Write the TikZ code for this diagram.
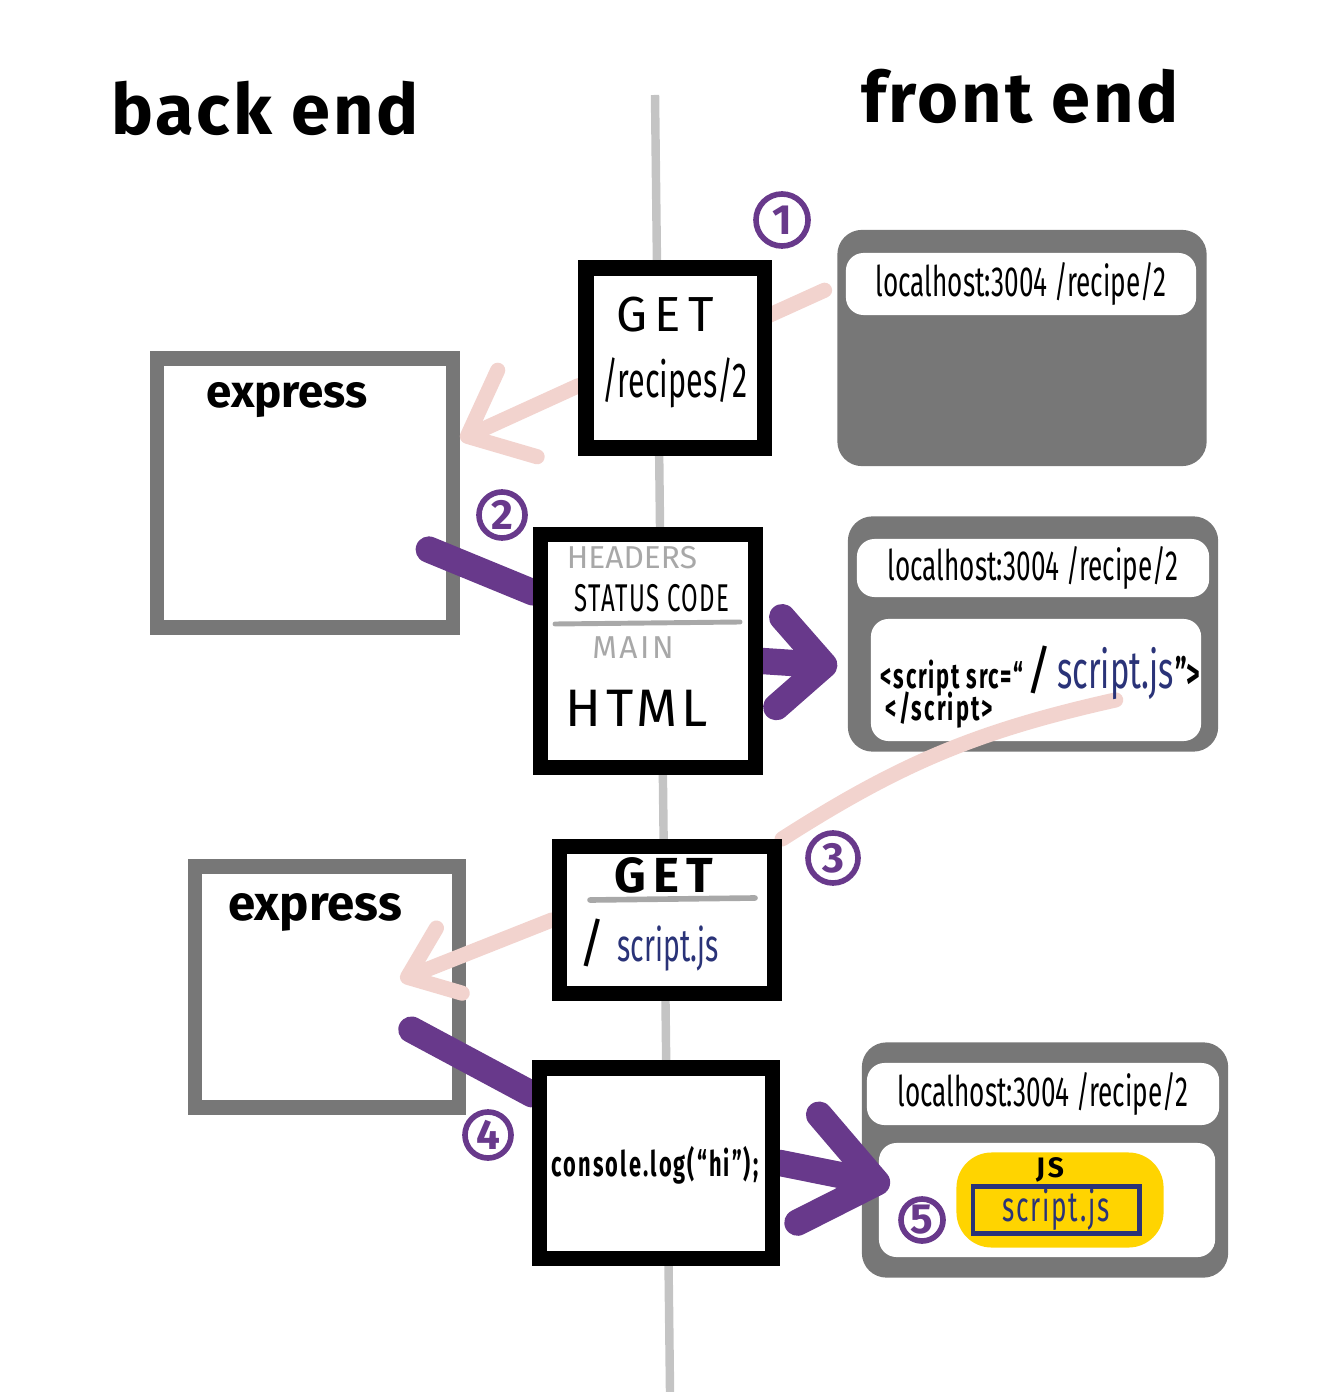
\documentclass[tikz,border=0pt]{standalone}
\usepackage{fontspec}
\setmainfont{Fira Sans}
\newfontfamily\narrowhand[FakeStretch=0.62]{Fira Sans}
\usetikzlibrary{positioning, arrows.meta, backgrounds}
\definecolor{reqpink}{HTML}{F2D3CE}
\definecolor{respurple}{HTML}{68398B}
\definecolor{boxgray}{HTML}{777777}
\definecolor{midgray}{HTML}{A8A8A8}
\definecolor{linegray}{HTML}{C4C4C4}
\definecolor{jsnavy}{HTML}{2A3378}
\definecolor{jsyellow}{HTML}{FFD400}
\tikzstyle{every node}=[inner sep=0pt]
\tikzstyle{msg}=[draw=black,fill=white,line width=4.3pt,rectangle]
\tikzstyle{server}=[draw=boxgray,fill=white,line width=4.2pt,rectangle]
\tikzstyle{browser}=[draw=boxgray,fill=boxgray,line width=4pt,rounded corners=5pt,rectangle]
\tikzstyle{pane}=[fill=white,rounded corners=5pt,rectangle]
\tikzstyle{num}=[draw=respurple,text=respurple,circle,line width=1.6pt,font=\bfseries\handsize{12}]
\tikzstyle{request}=[draw=reqpink,line width=4.3pt,line cap=round]
\tikzstyle{response}=[draw=respurple,line width=7.5pt,line cap=round]
\newcommand{\handsize}[1]{\fontsize{#1}{#1}\selectfont}

\begin{document}
\begin{tikzpicture}[x=0.01cm,y=-0.01cm]
\useasboundingbox (0,0) rectangle (1340,1392);
\begin{scope}[on background layer]
  \draw[linegray,line width=2.4pt] (655,95) -- (670,1392);
  \node[server,minimum width=2.96cm,minimum height=2.69cm] (express1) at (305,493) {};
  \node[server,minimum width=2.64cm,minimum height=2.41cm] (express2) at (327,987) {};
  \node[browser,minimum width=3.55cm,minimum height=2.22cm] (browser1) at (1022,348) {};
  \node[pane,minimum width=3.5cm,minimum height=0.62cm] (url1) at (1021,284) {};
  \node[browser,minimum width=3.56cm,minimum height=2.21cm] (browser2) at (1033,634) {};
  \node[pane,minimum width=3.52cm,minimum height=0.58cm] (url2) at (1033,568) {};
  \node[pane,minimum width=3.3cm,minimum height=1.22cm] (page2) at (1036,680) {};
  \node[browser,minimum width=3.52cm,minimum height=2.21cm] (browser3) at (1045,1160) {};
  \node[pane,minimum width=3.52cm,minimum height=0.62cm] (url3) at (1043,1094) {};
  \node[pane,minimum width=3.36cm,minimum height=1.14cm] (page3) at (1047,1200) {};
\end{scope}

\node[font=\bfseries\handsize{20}\addfontfeature{LetterSpace=4}] (backtitle) at (265,108) {back end};
\node[font=\bfseries\handsize{20}\addfontfeature{LetterSpace=4}] (fronttitle) at (1020,96) {front end};

\node[font=\bfseries\handsize{13}] (expresslabel1) at (287,400) {express};
\node[font=\bfseries\handsize{14}] (expresslabel2) at (315,912) {express};

\node[msg,minimum width=1.78cm,minimum height=1.8cm] (get1) at (675,358) {};
\node[font=\handsize{14}\addfontfeature{LetterSpace=15}] (getverb1) at (665,315) {GET};
\node[font=\narrowhand\handsize{14}] (getpath1) at (675,383) {/recipes/2};

\node[msg,minimum width=2.15cm,minimum height=2.33cm] (html) at (648,651) {};
\node[font=\handsize{9},text=midgray] (headers) at (632,558) {HEADERS};
\node[font=\narrowhand\handsize{11}\addfontfeature{LetterSpace=4}] (status) at (652,598) {STATUS CODE};
\draw[midgray,line width=1.4pt,line cap=round] (555,624) -- (740,622);
\node[font=\handsize{9}\addfontfeature{LetterSpace=8},text=midgray] (mainpart) at (633,648) {MAIN};
\node[font=\handsize{15}\addfontfeature{LetterSpace=8}] (htmlbody) at (637,708) {HTML};

\node[msg,minimum width=2.15cm,minimum height=1.47cm] (get2) at (667,920) {};
\node[font=\bfseries\handsize{14}\addfontfeature{LetterSpace=15}] (getverb2) at (664,875) {GET};
\draw[midgray,line width=1.6pt,line cap=round] (590,900) -- (755,898);
\node[font=\handsize{15}] (slash2) at (592,943) {/};
\node[font=\narrowhand\handsize{13},text=jsnavy,base right=3pt of slash2] (scriptpath) {script.js};

\node[msg,minimum width=2.33cm,minimum height=1.9cm] (console) at (656,1163) {};
\node[font=\bfseries\narrowhand\handsize{10}\addfontfeature{LetterSpace=6}] (logcall) at (655,1165) {console.log(“hi”);};

\node[font=\narrowhand\handsize{12}] (host1) at (url1) {localhost:3004 /recipe/2};
\node[font=\narrowhand\handsize{12}] (host2) at (url2) {localhost:3004 /recipe/2};
\node[font=\narrowhand\handsize{12}] (host3) at (url3) {localhost:3004 /recipe/2};

\node[font=\bfseries\narrowhand\handsize{10}\addfontfeature{LetterSpace=5},anchor=base west] (tagopen) at (880,688) {<script src=“};
\node[font=\handsize{15},base right=0pt of tagopen] (slash1) {/};
\node[font=\narrowhand\handsize{15},text=jsnavy,base right=1pt of slash1] (srcname) {script.js};
\node[font=\bfseries\narrowhand\handsize{12},base right=0pt of srcname] (tagclose) {”>};
\node[font=\bfseries\narrowhand\handsize{10}\addfontfeature{LetterSpace=6},anchor=base west] (tagend) at (885,720) {</script>};

\node[fill=jsyellow,rounded corners=10pt,minimum width=2.07cm,minimum height=0.95cm] (jsfile) at (1060,1200) {};
\node[font=\bfseries\handsize{8}\addfontfeature{LetterSpace=10}] (jslabel) at (1050,1170) {JS};
\node[draw=jsnavy,line width=1.4pt,minimum width=1.66cm,minimum height=0.47cm,font=\narrowhand\handsize{12}\addfontfeature{LetterSpace=4},text=jsnavy] (jsname) at (1056,1210) {script.js};

\node[num,minimum size=0.52cm] (step1) at (782,220) {1};
\node[num,minimum size=0.46cm] (step2) at (502,515) {2};
\node[num,minimum size=0.5cm] (step3) at (833,858) {3};
\node[num,minimum size=0.46cm] (step4) at (488,1135) {4};
\node[num,minimum size=0.42cm] (step5) at (922,1220) {5};

\begin{scope}[on background layer]
  \draw[request,shorten <=4pt] (browser1.161) -- (get1.center);
  \draw[request,-{Straight Barb[round,length=5.5mm,width=9.5mm]}] (get1.196) -- (express1.19);
  \draw[response] ([xshift=-9pt]express1.-20) -- (html.153);
  \draw[response,-{Straight Barb[round,length=4.5mm,width=9mm]},shorten >=3pt] (html.-5) -- (browser2.190);
  \draw[request] (srcname.south) to[bend right=10] (get2.north east);
  \draw[request,-{Straight Barb[round,length=4.5mm,width=7mm]}] (get2.west) -- ([xshift=-0.66cm,yshift=0.07cm]express2.east);
  \draw[response] ([xshift=-0.55cm]express2.-17) -- (console.151);
  \draw[response,-{Straight Barb[round,length=7mm,width=11mm]}] (console.east) -- ([xshift=0.28cm,yshift=-0.25cm]browser3.west);
\end{scope}
\end{tikzpicture}
\end{document}
